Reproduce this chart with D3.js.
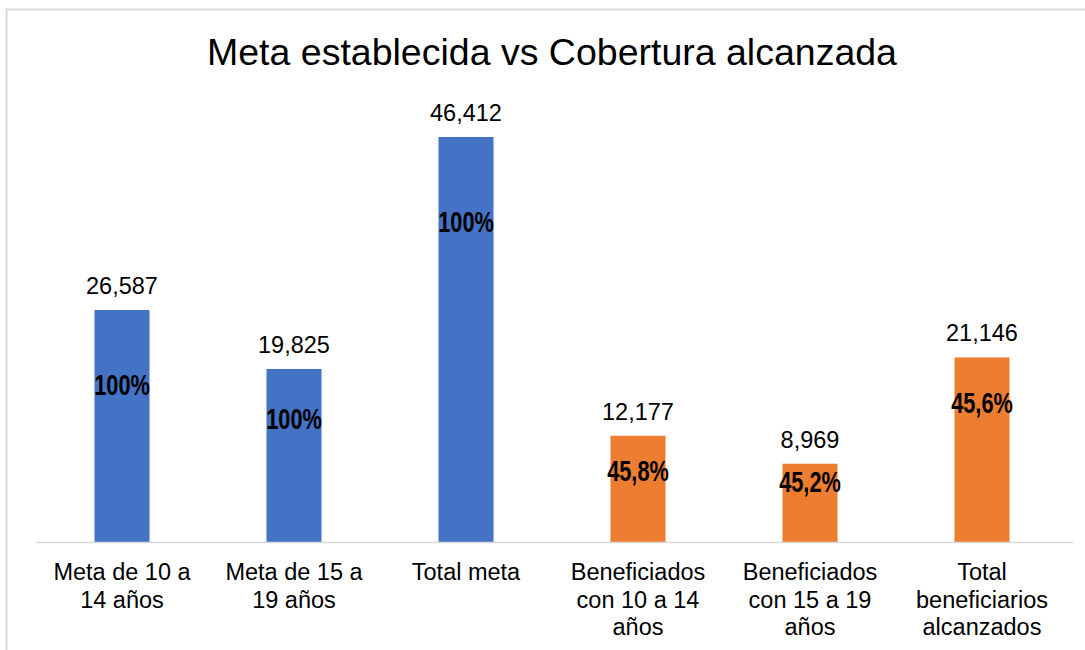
<!DOCTYPE html>
<html>
<head>
<meta charset="utf-8">
<script src="https://cdn.jsdelivr.net/npm/d3@7"></script>
<style>
  body { margin: 0; background: #fff; }
  svg { display: block; font-family: "Liberation Sans", Arial, sans-serif; }
</style>
</head>
<body>
<svg width="1085" height="650"></svg>
<script>
// data
var categories = [
  ["Meta de 10 a", "14 años"],
  ["Meta de 15 a", "19 años"],
  ["Total meta"],
  ["Beneficiados", "con 10 a 14", "años"],
  ["Beneficiados", "con 15 a 19", "años"],
  ["Total", "beneficiarios", "alcanzados"]
];
var values = [26587, 19825, 46412, 12177, 8969, 21146];
var percents = ["100%", "100%", "100%", "45,8%", "45,2%", "45,6%"];
// where the percent labels sit (in data units, placed by hand in the original)
var percentAt = [18100, 14150, 36750, 8150, 6900, 15950];
var groups = ["meta", "meta", "meta", "benef", "benef", "benef"];

var svg = d3.select("svg"),
  width = +svg.attr("width"),
  height = +svg.attr("height");

var colors = { meta: "#4472C4", benef: "#ED7D31" };

// chart border
svg.append("rect")
  .attr("x", 6.5).attr("y", 9.5)
  .attr("width", 1100).attr("height", 700)
  .attr("fill", "none")
  .attr("stroke", "#d9d9d9")
  .attr("stroke-width", 2);

svg.append("text")
  .attr("x", 552).attr("y", 65)
  .attr("text-anchor", "middle")
  .style("font-size", "37.5px")
  .style("fill", "#000")
  .text("Meta establecida vs Cobertura alcanzada");

var x = d3.scaleBand()
  .domain(d3.range(values.length))
  .range([36, 1068])
  .paddingInner(0.68)
  .paddingOuter(0.34);

var y = d3.scaleLinear()
  .domain([0, 46412])
  .range([542, 137]);

// bars
svg.selectAll(".bar")
  .data(values)
  .enter().append("rect")
  .attr("class", "bar")
  .attr("x", (d, i) => x(i))
  .attr("y", d => y(d))
  .attr("width", x.bandwidth())
  .attr("height", d => y(0) - y(d))
  .attr("fill", (d, i) => colors[groups[i]]);

// axis line
svg.append("line")
  .attr("x1", 36).attr("x2", 1073)
  .attr("y1", 542.5).attr("y2", 542.5)
  .attr("stroke", "#d9d9d9")
  .attr("stroke-width", 1.5);

// value labels
svg.selectAll(".val")
  .data(values)
  .enter().append("text")
  .attr("class", "val")
  .attr("x", (d, i) => x(i) + x.bandwidth() / 2)
  .attr("y", d => y(d) - 16)
  .attr("text-anchor", "middle")
  .style("font-size", "23.5px")
  .style("fill", "#000")
  .text(d => d3.format(",")(d));

// percent labels (condensed bold)
svg.selectAll(".pct")
  .data(percents)
  .enter().append("text")
  .attr("class", "pct")
  .attr("transform", (d, i) => "translate(" + (x(i) + x.bandwidth() / 2) + "," + (y(percentAt[i]) + 10.5) + ") scale(0.75,1)")
  .attr("text-anchor", "middle")
  .style("font-weight", "bold")
  .style("font-size", "29px")
  .style("fill", "#000")
  .text(d => d);

// category labels
var cat = svg.selectAll(".cat")
  .data(categories)
  .enter().append("text")
  .attr("class", "cat")
  .attr("text-anchor", "middle")
  .style("font-size", "23.5px")
  .style("fill", "#000");

cat.selectAll("tspan")
  .data((d, i) => d.map(t => ({ t: t, i: i })))
  .enter().append("tspan")
  .attr("x", d => x(d.i) + x.bandwidth() / 2)
  .attr("y", (d, j) => 580 + j * 27.5)
  .text(d => d.t);
</script>
</body>
</html>
